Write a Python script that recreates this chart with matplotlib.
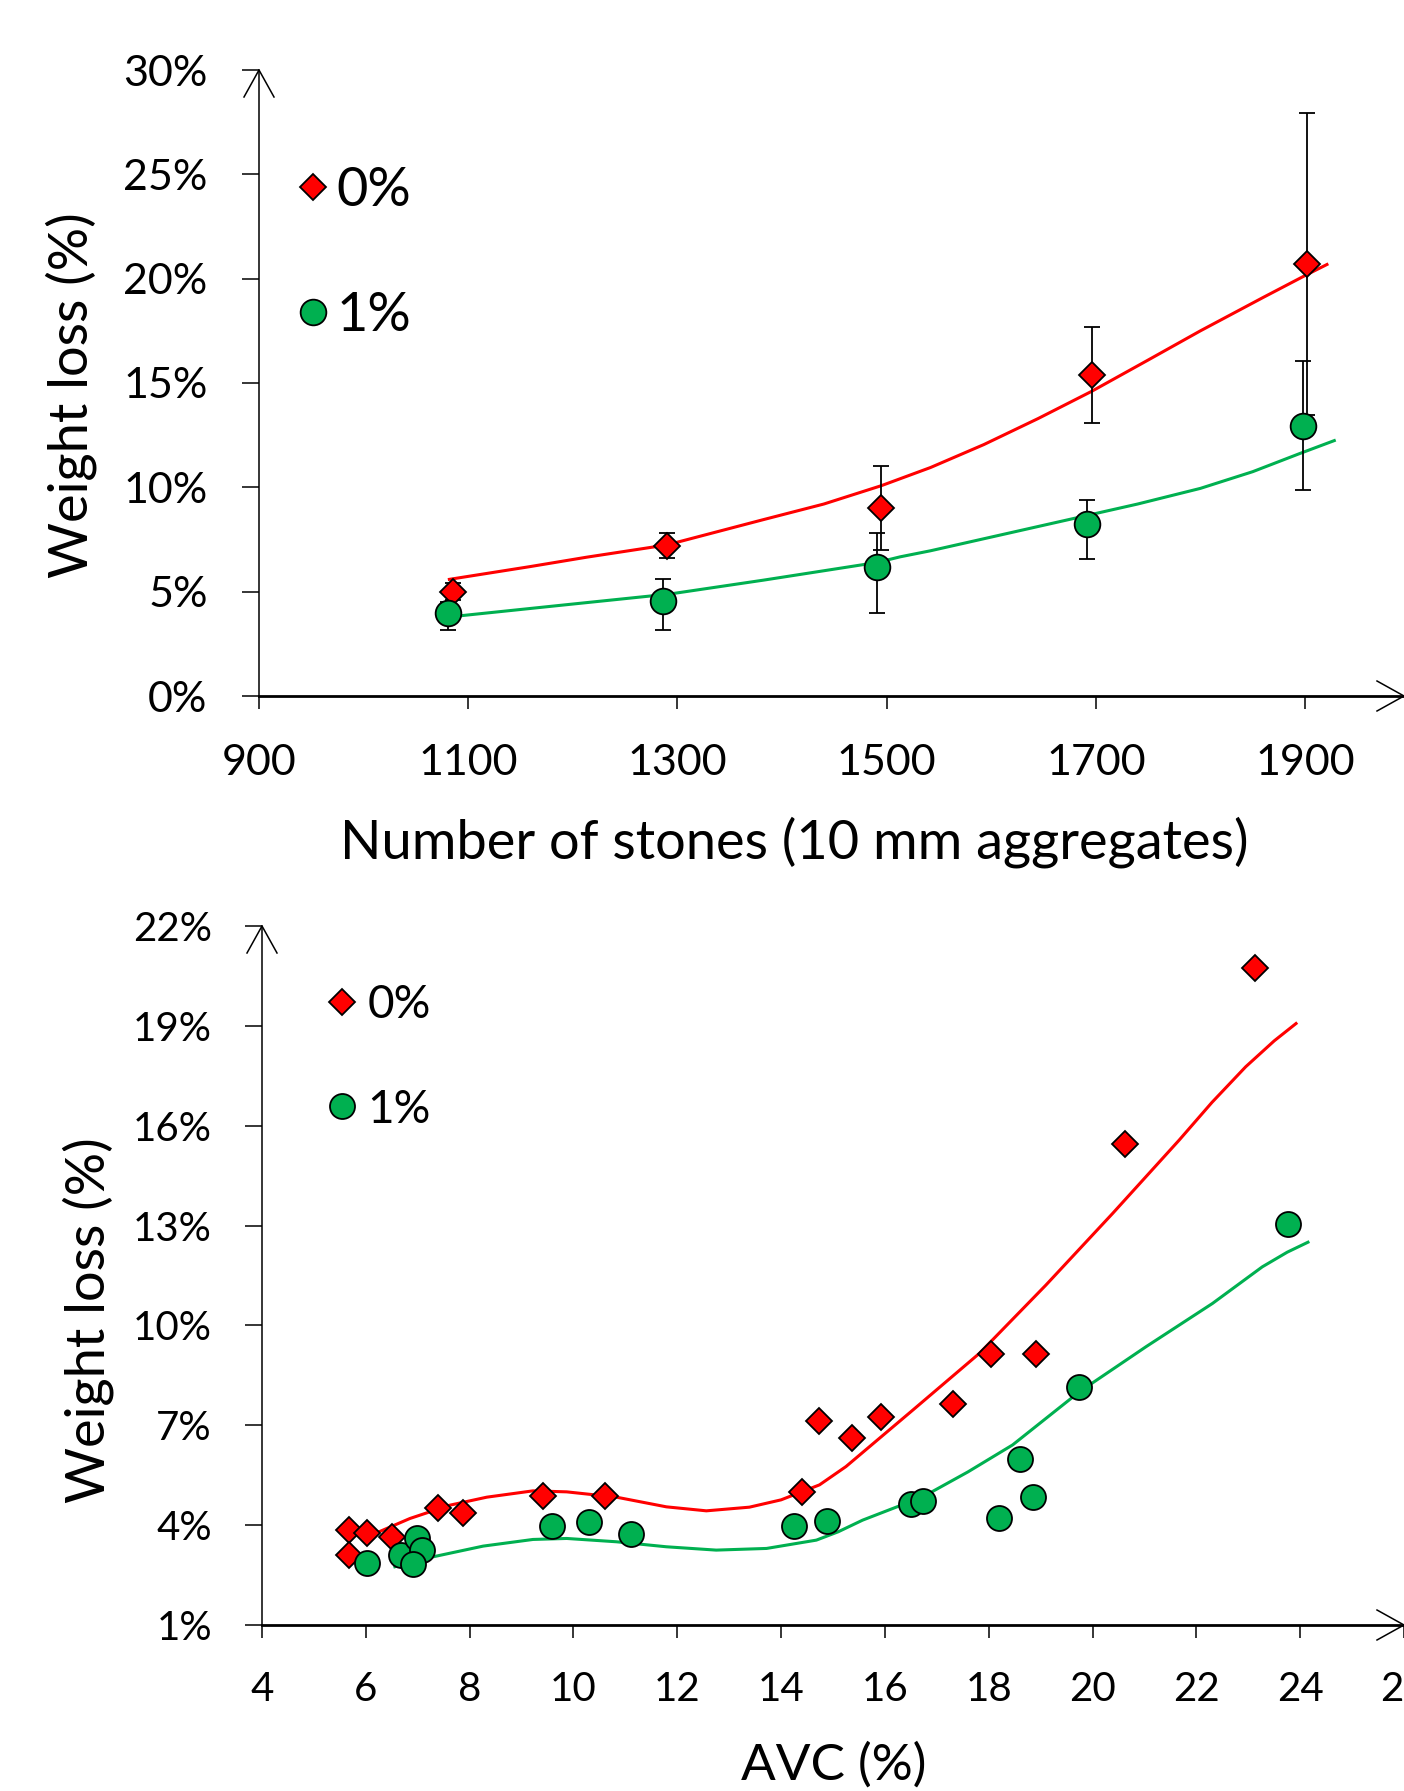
import matplotlib
matplotlib.use('Agg')
import matplotlib.pyplot as plt
import numpy as np

plt.rcParams['font.family'] = ['Lato', 'DejaVu Sans']

# ---- top chart: weight loss vs number of stones ----
stones_0 = [1085, 1290, 1495, 1696, 1902]
loss_0 = [5.0, 7.2, 9.0, 15.4, 20.7]
err_0_lo = [0.4, 0.6, 2.0, 2.3, 7.25]
err_0_hi = [0.4, 0.6, 2.0, 2.3, 7.25]

stones_1 = [1081, 1286, 1491, 1692, 1898]
loss_1 = [3.96, 4.57, 6.2, 8.23, 12.95]
err_1_lo = [0.8, 1.41, 2.21, 1.67, 3.1]
err_1_hi = [0.55, 1.02, 1.59, 1.16, 3.1]

# trend lines
trend_x_0 = [1082, 1159, 1213, 1290, 1382, 1440, 1495, 1542, 1593, 1645, 1696,
             1750, 1800, 1860, 1902, 1921]
trend_y_0 = [5.59, 6.20, 6.65, 7.24, 8.45, 9.2, 10.08, 10.95, 12.05, 13.3, 14.6,
             16.1, 17.5, 19.1, 20.2, 20.68]
trend_x_1 = [1080, 1191, 1293, 1382, 1491, 1513, 1542, 1672, 1740, 1800, 1850,
             1895, 1928]
trend_y_1 = [3.78, 4.36, 4.89, 5.55, 6.4, 6.67, 6.96, 8.43, 9.2, 9.95, 10.75,
             11.62, 12.24]

# ---- bottom chart: weight loss vs AVC ----
avc_0 = [5.68, 6.02, 6.50, 5.68, 7.39, 7.88, 9.41, 10.60, 14.40, 14.73, 15.37,
         15.93, 17.31, 18.04, 18.92, 20.62, 23.12]
wl_0 = [3.85, 3.75, 3.65, 3.10, 4.51, 4.36, 4.88, 4.88, 5.00, 7.14, 6.63,
        7.26, 7.64, 9.14, 9.14, 15.45, 20.74]
avc_1 = [6.03, 6.67, 6.99, 7.08, 6.91, 9.58, 10.30, 11.10, 14.25, 14.88, 16.51,
         16.74, 18.19, 18.60, 18.85, 19.73, 23.76]
wl_1 = [2.85, 3.10, 3.60, 3.25, 2.83, 3.97, 4.10, 3.73, 3.97, 4.13, 4.63,
        4.73, 4.20, 5.99, 4.85, 8.14, 13.05]

curve_x_0 = [6.21, 6.85, 7.62, 8.33, 9.22, 9.87, 10.83, 11.79, 12.56, 13.39, 14.0,
             14.74, 15.25, 16.54, 17.82, 19.10, 20.39, 21.67, 22.3, 22.95, 23.5, 23.92]
curve_y_0 = [3.77, 4.20, 4.60, 4.84, 5.03, 5.00, 4.84, 4.55, 4.43, 4.54, 4.76,
             5.21, 5.76, 7.46, 9.16, 11.21, 13.37, 15.57, 16.7, 17.77, 18.55, 19.07]
curve_x_1 = [6.56, 7.30, 8.26, 9.22, 9.87, 10.83, 11.79, 12.75, 13.72, 14.68,
             15.1, 15.57, 16.73, 17.6, 18.46, 19.75, 21.03, 22.31, 23.27, 23.75, 24.15]
curve_y_1 = [2.75, 3.05, 3.37, 3.57, 3.60, 3.50, 3.35, 3.25, 3.30, 3.55,
             3.8, 4.15, 4.85, 5.6, 6.41, 8.01, 9.36, 10.66, 11.76, 12.2, 12.5]

labels = ['0%', '1%']
red = '#FF0000'
green = '#00B050'

W, H = 1404, 1791
fig = plt.figure(figsize=(W / 100, H / 100), dpi=100)


def add_arrows(ax, box):
    # open arrow heads at the ends of both axes
    wpx = box[2] * W
    hpx = box[3] * H
    hl, hw = 27, 15
    kw = dict(color='black', lw=1.1, transform=ax.transAxes, clip_on=False)
    ax.plot([-hw / wpx, 0, hw / wpx], [1 - hl / hpx, 1, 1 - hl / hpx], **kw)
    ax.plot([1 - hl / wpx, 1, 1 - hl / wpx], [hw / hpx, 0, -hw / hpx], **kw)


def style(ax, tick_font, ypad, xpad):
    for s in ['top', 'right']:
        ax.spines[s].set_visible(False)
    ax.spines['left'].set_linewidth(1.1)
    ax.spines['bottom'].set_linewidth(2.0)
    ax.tick_params(axis='y', direction='out', length=12, width=1.1,
                   labelsize=tick_font, pad=ypad)
    ax.tick_params(axis='x', direction='out', length=9.5, width=1.1,
                   labelsize=tick_font, pad=xpad)


# top axes
box1 = [259 / W, 1 - 696 / H, 1 - 259 / W, (696 - 70) / H]
ax1 = fig.add_axes(box1)
ax1.plot(trend_x_0, trend_y_0, color=red, lw=2.2, zorder=2)
ax1.plot(trend_x_1, trend_y_1, color=green, lw=2.2, zorder=2)
ax1.errorbar(stones_0, loss_0, yerr=[err_0_lo, err_0_hi], fmt='none',
             ecolor='black', elinewidth=1.3, capsize=6, capthick=1.3, zorder=3)
ax1.errorbar(stones_1, loss_1, yerr=[err_1_lo, err_1_hi], fmt='none',
             ecolor='black', elinewidth=1.3, capsize=6, capthick=1.3, zorder=3)
h0, = ax1.plot(stones_0, loss_0, ls='none', marker='D', ms=13.5, mfc=red,
               mec='black', mew=1.3, zorder=4)
h1, = ax1.plot(stones_1, loss_1, ls='none', marker='o', ms=18.5, mfc=green,
               mec='black', mew=1.3, zorder=4)
ax1.set_xlim(900, 900 + (W - 259) / 1.046)
ax1.set_ylim(0, 30)
ax1.set_xticks(np.arange(900, 2000, 200))
ax1.set_yticks(np.arange(0, 31, 5))
ax1.yaxis.set_major_formatter(lambda v, p: '%d%%' % v)
style(ax1, 31, 25, 25)
add_arrows(ax1, box1)
ax1.legend([h0, h1], labels, loc='upper left', bbox_to_anchor=(0.0164, 0.882),
           frameon=False, fontsize=39, handlelength=0.5, handletextpad=0.18,
           labelspacing=1.42, borderaxespad=0)

# bottom axes
box2 = [262 / W, 1 - 1625 / H, 1 - 262 / W, (1625 - 926) / H]
ax2 = fig.add_axes(box2)
ax2.plot(curve_x_0, curve_y_0, color=red, lw=2.2, zorder=2)
ax2.plot(curve_x_1, curve_y_1, color=green, lw=2.2, zorder=2)
g0, = ax2.plot(avc_0, wl_0, ls='none', marker='D', ms=13, mfc=red,
               mec='black', mew=1.3, zorder=4)
g1, = ax2.plot(avc_1, wl_1, ls='none', marker='o', ms=18, mfc=green,
               mec='black', mew=1.3, zorder=4)
ax2.set_xlim(4, 26)
ax2.set_ylim(1, 22)
ax2.set_xticks(np.arange(4, 27, 2))
ax2.set_yticks(np.arange(1, 23, 3))
ax2.yaxis.set_major_formatter(lambda v, p: '%d%%' % v)
style(ax2, 29, 24, 23.5)
add_arrows(ax2, box2)
ax2.legend([g0, g1], labels, loc='upper left', bbox_to_anchor=(0.044, 0.943),
           frameon=False, fontsize=33, handlelength=0.5, handletextpad=0.3,
           labelspacing=1.36, borderaxespad=0)

fig.text(794 / W, 1 - 842 / H, 'Number of stones (10 mm aggregates)',
         fontsize=39, ha='center', va='center')
fig.text(834 / W, 1 - 1765 / H, 'AVC (%)', fontsize=37, ha='center', va='center')
fig.text(71 / W, 1 - 395 / H, 'Weight loss (%)', fontsize=39, rotation=90,
         ha='center', va='center')
fig.text(88 / W, 1 - 1320 / H, 'Weight loss (%)', fontsize=39, rotation=90,
         ha='center', va='center')

fig.savefig('out.png', dpi=100)
